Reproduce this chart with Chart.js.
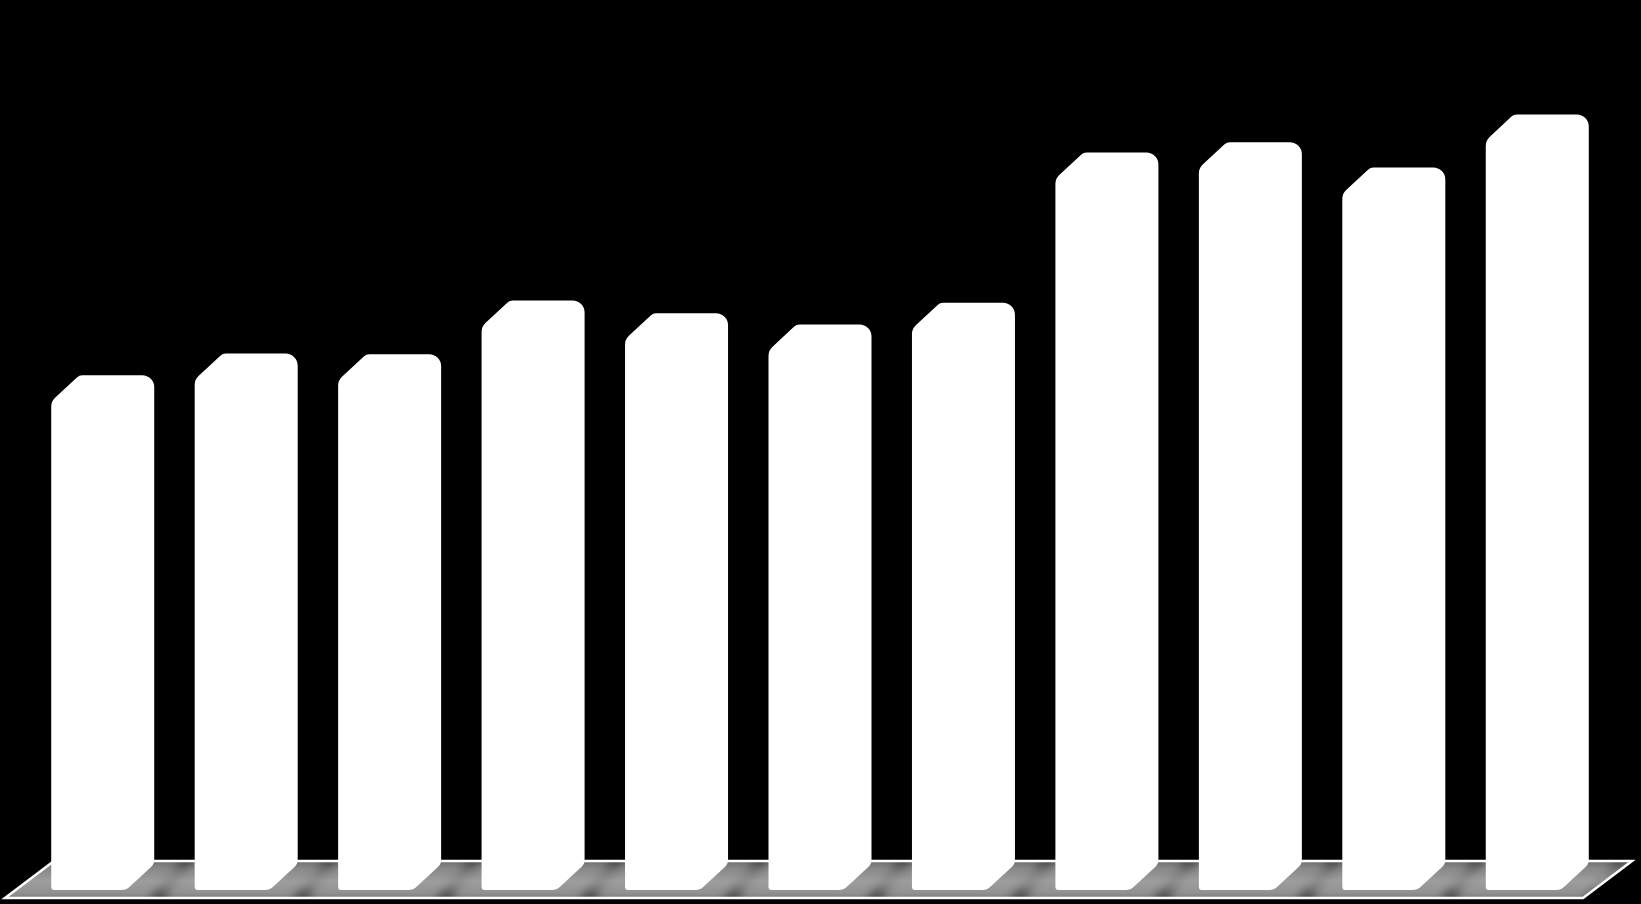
<!DOCTYPE html>
<html>
<head>
<meta charset="utf-8">
<script src="https://cdn.jsdelivr.net/npm/chart.js@4.4.0/dist/chart.umd.min.js"></script>
<style>
  html, body { margin: 0; padding: 0; background: #000; }
  #wrap { position: relative; width: 1641px; height: 904px; }
</style>
</head>
<body>
<div id="wrap"><canvas id="chart"></canvas></div>
<script>
// Bar data (no labels are shown in the picture)
const categories = ['1', '2', '3', '4', '5', '6', '7', '8', '9', '10', '11'];
const values = [65.4, 68.3, 68.2, 75.4, 73.7, 72.2, 75.1, 95.2, 96.6, 93.2, 100.3];

// depth of the fake 3d bars, in pixels
const DEPTH_X = 28;
const DEPTH_Y = 26;

// Draws a polygon with rounded corners
function roundedPoly(ctx, pts, radii) {
    const n = pts.length;
    const a = pts[n - 1], b = pts[0];
    ctx.beginPath();
    ctx.moveTo((a[0] + b[0]) / 2, (a[1] + b[1]) / 2);
    for (let i = 0; i < n; i++) {
        const p = pts[i], q = pts[(i + 1) % n];
        ctx.arcTo(p[0], p[1], q[0], q[1], radii[i]);
    }
    ctx.closePath();
}

const bar3d = {
    id: 'bar3d',
    beforeDatasetsDraw(chart) {
        // the grey floor under the bars
        const ctx = chart.ctx;
        const area = chart.chartArea;
        const top = area.bottom - 29;
        const bottom = area.bottom + 8;
        const floor = [
            [area.left + 23, top],
            [area.right + 23, top],
            [area.right - 26, bottom],
            [area.left - 26, bottom]
        ];
        ctx.save();
        ctx.beginPath();
        floor.forEach((p, i) => i ? ctx.lineTo(p[0], p[1]) : ctx.moveTo(p[0], p[1]));
        ctx.closePath();
        const grad = ctx.createLinearGradient(0, top, 0, bottom);
        grad.addColorStop(0, '#707070');
        grad.addColorStop(0.2, '#888888');
        grad.addColorStop(0.55, '#9d9d9d');
        grad.addColorStop(0.85, '#929292');
        grad.addColorStop(1, '#7e7e7e');
        ctx.fillStyle = grad;
        ctx.fill();
        ctx.clip();

        // soft dark streaks next to each bar
        const meta = chart.getDatasetMeta(0);
        const streak = ctx.createLinearGradient(0, top, 0, bottom);
        streak.addColorStop(0, 'rgba(0,0,0,0.45)');
        streak.addColorStop(0.35, 'rgba(0,0,0,0.08)');
        streak.addColorStop(0.7, 'rgba(0,0,0,0.12)');
        streak.addColorStop(1, 'rgba(0,0,0,0.6)');
        ctx.filter = 'blur(4px)';
        ctx.fillStyle = streak;
        meta.data.forEach(el => {
            const { x, width } = el.getProps(['x', 'width'], true);
            const r = x + width / 2;
            ctx.beginPath();
            ctx.moveTo(r + 28, top - 4);
            ctx.lineTo(r + 42, top - 4);
            ctx.lineTo(r + 10, bottom + 2);
            ctx.lineTo(r - 6, bottom + 2);
            ctx.closePath();
            ctx.fill();
        });
        ctx.restore();

        // white outline of the floor
        ctx.save();
        ctx.strokeStyle = '#ffffff';
        ctx.lineWidth = 2.5;
        ctx.beginPath();
        floor.forEach((p, i) => i ? ctx.lineTo(p[0], p[1]) : ctx.moveTo(p[0], p[1]));
        ctx.closePath();
        ctx.stroke();
        ctx.restore();
    },
    afterDatasetsDraw(chart) {
        const ctx = chart.ctx;
        const meta = chart.getDatasetMeta(0);
        ctx.save();
        ctx.fillStyle = '#ffffff';
        meta.data.forEach(el => {
            const { x, y, base, width } = el.getProps(['x', 'y', 'base', 'width'], true);
            const left = x - width / 2;
            const right = x + width / 2;
            const pts = [
                [left, y],
                [left + DEPTH_X, y - DEPTH_Y],
                [right, y - DEPTH_Y],
                [right, base - DEPTH_Y],
                [right - DEPTH_X, base],
                [left, base]
            ];
            roundedPoly(ctx, pts, [12, 8, 12, 10, 12, 3]);
            ctx.fill();
        });
        ctx.restore();
    }
};

new Chart(document.getElementById('chart'), {
    type: 'bar',
    data: {
        labels: categories,
        datasets: [{
            data: values,
            backgroundColor: 'rgba(0,0,0,0)',
            borderWidth: 0,
            barPercentage: 0.718,
            categoryPercentage: 1
        }]
    },
    options: {
        responsive: true,
        maintainAspectRatio: false,
        animation: false,
        layout: {
            padding: { left: 31, right: 32, top: 68, bottom: 14 }
        },
        scales: {
            x: { display: false, offset: true },
            y: { display: false, min: 0, max: 110 }
        },
        plugins: {
            legend: { display: false },
            tooltip: { enabled: false }
        }
    },
    plugins: [bar3d]
});
</script>
</body>
</html>
